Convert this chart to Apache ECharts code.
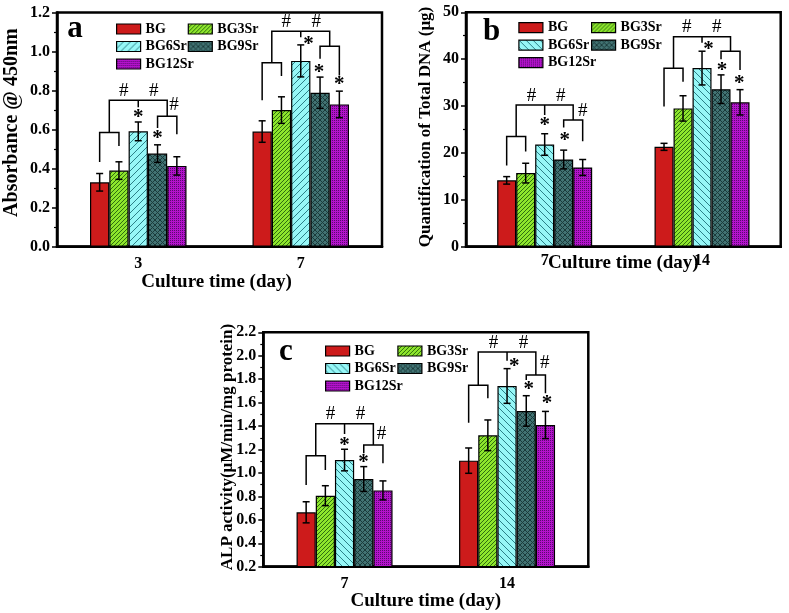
<!DOCTYPE html>
<html><head><meta charset="utf-8">
<script src="https://cdn.jsdelivr.net/npm/echarts@6/dist/echarts.min.js"></script>
<style>html,body{margin:0;padding:0;background:#fff}#chart{width:789px;height:613px}</style>
</head><body><div id="chart"></div>
<script>
// ================= DATA =================
const groupNames = ['BG', 'BG3Sr', 'BG6Sr', 'BG9Sr', 'BG12Sr'];

// Panel a: Absorbance @ 450nm
const daysA = ['3', '7'];
const meanA = [[0.330, 0.590], [0.390, 0.700], [0.591, 0.952], [0.477, 0.789], [0.414, 0.729]];
const errA  = [[0.045, 0.055], [0.045, 0.068], [0.048, 0.082], [0.045, 0.080], [0.047, 0.068]];
const yTicksA = [0.0, 0.2, 0.4, 0.6, 0.8, 1.0, 1.2];
// brackets: [dayIndex, slotLeft, slotRight, yTop, yLeftLegEnd, yRightLegEnd]
const bracketsA = [
  [0, -2, -1, 0.585, 0.434, 0.516], [0, -1.5, 1.5, 0.750, 0.585, 0.668], [0, 1, 2, 0.668, 0.608, 0.576], [0, 0, 0, 0.750, 0.715, 0.715],
  [1, -2, -1, 0.942, 0.750, 0.874], [1, -1.5, 1.5, 1.104, 0.942, 1.027], [1, 1, 2, 1.027, 0.963, 0.877], [1, 0, 0, 1.104, 1.073, 1.073]
];
// marks: [dayIndex, slot, y, kind]  kind 0 = '#', 1 = '*'
const marksA = [
  [0, -0.75, 0.796, 0], [0, 0.8, 0.796, 0], [0, 1.85, 0.724, 0], [0, 0, 0.678, 1], [0, 1, 0.571, 1],
  [1, -0.75, 1.150, 0], [1, 0.8, 1.150, 0], [1, 0.4, 1.053, 1], [1, 0.95, 0.912, 1], [1, 2, 0.847, 1]
];

// Panel b: Quantification of Total DNA (μg)
const daysB = ['7', '14'];
const meanB = [[14.15, 21.3], [15.7, 29.5], [21.8, 38.1], [18.6, 33.6], [16.9, 30.8]];
const errB  = [[0.8, 0.75], [2.1, 2.7], [2.3, 3.6], [2.0, 3.05], [1.7, 2.7]];
const yTicksB = [0, 10, 20, 30, 40, 50];
const bracketsB = [
  [0, -2, -1, 23.5, 17.3, 20.3], [0, -1.5, 1.5, 30.2, 23.5, 27.0], [0, 1, 2, 27.0, 25.4, 22.5], [0, 0, 0, 30.2, 28.1, 28.1],
  [1, -2, -1, 38.05, 29.9, 35.2], [1, -1.5, 1.5, 44.8, 38.05, 41.7], [1, 1, 2, 41.7, 40.0, 37.7], [1, 0, 0, 44.8, 43.5, 43.5]
];
const marksB = [
  [0, -0.7, 32.2, 0], [0, 0.85, 32.2, 0], [0, 2.0, 29.0, 0], [0, 0, 26.5, 1], [0, 1.05, 23.3, 1],
  [1, -0.8, 46.8, 0], [1, 0.78, 46.8, 0], [1, 0.34, 42.8, 1], [1, 1.05, 38.4, 1], [1, 1.96, 35.6, 1]
];

// Panel c: ALP activity
const daysC = ['7', '14'];
const meanC = [[0.664, 1.105], [0.806, 1.321], [1.110, 1.742], [0.948, 1.529], [0.851, 1.409]];
const errC  = [[0.090, 0.108], [0.085, 0.131], [0.092, 0.148], [0.106, 0.130], [0.081, 0.116]];
const yTicksC = [0.2, 0.4, 0.6, 0.8, 1.0, 1.2, 1.4, 1.6, 1.8, 2.0, 2.2];
const bracketsC = [
  [0, -2, -1, 1.147, 0.897, 1.025], [0, -1.5, 1.5, 1.420, 1.147, 1.238], [0, 1, 2, 1.238, 1.167, 1.082], [0, 0, 0, 1.420, 1.332, 1.332],
  [1, -2, -1, 1.748, 1.429, 1.637], [1, -1.5, 1.5, 2.032, 1.748, 1.836], [1, 1, 2, 1.836, 1.793, 1.679], [1, 0, 0, 2.032, 1.958, 1.958]
];
const marksC = [
  [0, -0.73, 1.500, 0], [0, 0.83, 1.500, 0], [0, 1.93, 1.332, 0], [0, 0, 1.267, 1], [0, 0.99, 1.116, 1],
  [1, -0.7, 2.106, 0], [1, 0.86, 2.106, 0], [1, 1.96, 1.935, 0], [1, 0.38, 1.940, 1], [1, 1.13, 1.745, 1], [1, 2.08, 1.623, 1]
];

// ================= STYLE =================
const FONT = "'Liberation Serif', 'Times New Roman', serif";

function tile(size, bg, draw) {
  const c = document.createElement('canvas');
  c.width = size; c.height = size;
  const g = c.getContext('2d');
  g.fillStyle = bg; g.fillRect(0, 0, size, size);
  draw(g, size);
  return { image: c, repeat: 'repeat' };
}
function fwd(g, s) { g.beginPath(); g.moveTo(0, s); g.lineTo(s, 0); g.moveTo(-1, 1); g.lineTo(1, -1); g.moveTo(s - 1, s + 1); g.lineTo(s + 1, s - 1); g.stroke(); }
function back(g, s) { g.beginPath(); g.moveTo(0, 0); g.lineTo(s, s); g.moveTo(-1, s - 1); g.lineTo(1, s + 1); g.moveTo(s - 1, -1); g.lineTo(s + 1, 1); g.stroke(); }

const patBG = '#cd1b1b';
const pat3 = tile(4, '#8ee62c', (g, s) => { g.strokeStyle = '#2f6e10'; g.lineWidth = 1; fwd(g, s); });
const pat6a = tile(7, '#96f7f7', (g, s) => { g.strokeStyle = '#2a8088'; g.lineWidth = 1; fwd(g, s); });
const pat6b = tile(7, '#96f7f7', (g, s) => { g.strokeStyle = '#2a8088'; g.lineWidth = 1; back(g, s); });
const pat9 = tile(5, '#427373', (g, s) => { g.strokeStyle = '#1b3b3b'; g.lineWidth = 1; fwd(g, s); back(g, s); });
const pat12 = tile(2, '#b412cc', (g, s) => { g.fillStyle = '#5a0a70'; g.fillRect(0, 0, 1, 1); });

const patternsA = [patBG, pat3, pat6a, pat9, pat12];
const patternsBC = [patBG, pat3, pat6b, pat9, pat12];

const panels = [
  { days: daysA, mean: meanA, err: errA, ticks: yTicksA, brackets: bracketsA, marks: marksA, pats: patternsA,
    grid: { left: 57, top: 12.5, width: 325, height: 234.2 }, barW: 19.3,
    yName: 'Absorbance @ 450nm', yNameSize: 20, yNameGap: 35, yNamePad: [0, 0, 0, 14], dec: 1,
    xNameGap: 26, xLabelMargin: 9, xNamePad: [0, 6, 0, 0],
    legendPos: [[111, 17], [182.7, 17]], letter: ['a', 75, 28.5] },
  { days: daysB, mean: meanB, err: errB, ticks: yTicksB, brackets: bracketsB, marks: marksB, pats: patternsBC,
    grid: { left: 466, top: 12.3, width: 314.7, height: 234.4 }, barW: 19,
    yName: 'Quantification of Total DNA (μg)', yNameSize: 17, yNameGap: 32, yNamePad: [0, 0, 0, 5], dec: 0,
    xNameGap: 7, xLabelMargin: 6, xNamePad: [0, 0, 0, 0],
    legendPos: [[513.3, 15.6], [586, 15.6]], letter: ['b', 491.7, 32] },
  { days: daysC, mean: meanC, err: errC, ticks: yTicksC, brackets: bracketsC, marks: marksC, pats: patternsBC,
    grid: { left: 263.3, top: 332.3, width: 325, height: 234.4 }, barW: 19.2,
    yName: 'ALP activity(μM/min/mg protein)', yNameSize: 17, yNameGap: 27, yNamePad: [0, 0, 0, 5], dec: 1,
    xNameGap: 25, xLabelMargin: 9, xNamePad: [0, 0, 0, 0],
    legendPos: [[320, 339], [392.3, 339]], letter: ['c', 286, 351.5] }
];

const grids = [], xAxes = [], yAxes = [], series = [], legends = [], graphics = [];

panels.forEach((p, k) => {
  grids.push(Object.assign({ show: true, borderColor: '#000', borderWidth: 2.5, backgroundColor: 'transparent' }, p.grid));
  xAxes.push({
    type: 'category', gridIndex: k, data: p.days, boundaryGap: true,
    axisLine: { lineStyle: { color: '#000', width: 2.5 } },
    axisTick: { alignWithLabel: true, length: 5, lineStyle: { color: '#000', width: 1.5 } },
    axisLabel: { color: '#000', fontFamily: FONT, fontWeight: 'bold', fontSize: 16, margin: p.xLabelMargin },
    splitLine: { show: false },
    name: 'Culture time (day)', nameLocation: 'middle', nameGap: p.xNameGap, nameMoveOverlap: false,
    nameTextStyle: { color: '#000', fontFamily: FONT, fontWeight: 'bold', fontSize: 19, padding: p.xNamePad }
  });
  const t = p.ticks;
  yAxes.push({
    type: 'value', gridIndex: k, min: t[0], max: t[t.length - 1], interval: +(t[1] - t[0]).toFixed(6),
    axisLine: { show: true, lineStyle: { color: '#000', width: 2.5 } },
    axisTick: { show: true, length: 5, lineStyle: { color: '#000', width: 1.5 } },
    minorTick: { show: true, splitNumber: 2, length: 3, lineStyle: { color: '#000', width: 1.2 } },
    splitLine: { show: false },
    axisLabel: { color: '#000', fontFamily: FONT, fontWeight: 'bold', fontSize: 16, margin: 7,
      formatter: v => (+v).toFixed(p.dec) },
    name: p.yName, nameLocation: 'middle', nameRotate: 90, nameGap: p.yNameGap, nameMoveOverlap: false,
    nameTextStyle: { color: '#000', fontFamily: FONT, fontWeight: 'bold', fontSize: p.yNameSize, padding: p.yNamePad }
  });

  groupNames.forEach((g, i) => {
    series.push({
      type: 'bar', name: g, xAxisIndex: k, yAxisIndex: k,
      data: p.mean[i], barWidth: p.barW, barGap: '0%',
      itemStyle: { color: p.pats[i], borderColor: '#000', borderWidth: 1.2 },
      emphasis: { disabled: true }
    });
  });

  // error bars
  const errData = [];
  groupNames.forEach((g, i) => {
    p.days.forEach((d, j) => errData.push([j, i - 2, p.mean[i][j] - p.err[i][j], p.mean[i][j] + p.err[i][j]]));
  });
  const bw = p.barW;
  series.push({
    type: 'custom', xAxisIndex: k, yAxisIndex: k, data: errData, z: 5, silent: true,
    encode: { x: 0, y: 3 },
    renderItem: (params, api) => {
      const c = api.value(0), s = api.value(1);
      const lo = api.coord([c, api.value(2)]), hi = api.coord([c, api.value(3)]);
      const x = lo[0] + s * bw, cap = 3.5;
      const st = { stroke: '#000', lineWidth: 1.5 };
      return { type: 'group', children: [
        { type: 'line', shape: { x1: x, y1: lo[1], x2: x, y2: hi[1] }, style: st },
        { type: 'line', shape: { x1: x - cap, y1: lo[1], x2: x + cap, y2: lo[1] }, style: st },
        { type: 'line', shape: { x1: x - cap, y1: hi[1], x2: x + cap, y2: hi[1] }, style: st }
      ] };
    }
  });
  // brackets
  series.push({
    type: 'custom', xAxisIndex: k, yAxisIndex: k, data: p.brackets, z: 5, silent: true,
    encode: { x: 0, y: 3 },
    renderItem: (params, api) => {
      const c = api.value(0);
      const top = api.coord([c, api.value(3)]);
      const yl = api.coord([c, api.value(4)])[1], yr = api.coord([c, api.value(5)])[1];
      const xl = top[0] + api.value(1) * bw, xr = top[0] + api.value(2) * bw;
      return { type: 'polyline', shape: { points: [[xl, yl], [xl, top[1]], [xr, top[1]], [xr, yr]] },
        style: { stroke: '#000', lineWidth: 1.5, fill: null } };
    }
  });
  // significance marks
  series.push({
    type: 'custom', xAxisIndex: k, yAxisIndex: k, data: p.marks, z: 6, silent: true,
    encode: { x: 0, y: 2 },
    renderItem: (params, api) => {
      const c = api.value(0), kind = api.value(3);
      const pt = api.coord([c, api.value(2)]);
      const star = kind === 1;
      return { type: 'text', x: pt[0] + api.value(1) * bw, y: pt[1] + (star ? 3.5 : 0),
        style: { text: star ? '*' : '#', fill: '#000', fontFamily: FONT,
          fontWeight: star ? 'bold' : 'normal', fontSize: star ? 21 : 19,
          align: 'center', verticalAlign: 'middle' } };
    }
  });

  const cols = [[0, 2, 4], [1, 3]];
  cols.forEach((col, ci) => {
    legends.push({
      orient: 'vertical', left: p.legendPos[ci][0], top: p.legendPos[ci][1],
      itemWidth: 24, itemHeight: 10, itemGap: 3.5, icon: 'rect', selectedMode: false,
      itemStyle: { borderColor: '#000', borderWidth: 1.2 },
      textStyle: { color: '#000', fontFamily: FONT, fontWeight: 'bold', fontSize: 14, lineHeight: 14 },
      data: col.map(i => ({ name: groupNames[i], itemStyle: { color: p.pats[i] } }))
    });
  });

  graphics.push({ type: 'text', x: p.letter[1], y: p.letter[2],
    style: { text: p.letter[0], fill: '#000', font: 'bold 31px ' + FONT, align: 'center', verticalAlign: 'middle' } });
});

const chart = echarts.init(document.getElementById('chart'), null, { renderer: 'canvas' });
chart.setOption({
  animation: false,
  backgroundColor: '#fff',
  grid: grids, xAxis: xAxes, yAxis: yAxes, legend: legends, series: series,
  graphic: { elements: graphics }
});
</script></body></html>
